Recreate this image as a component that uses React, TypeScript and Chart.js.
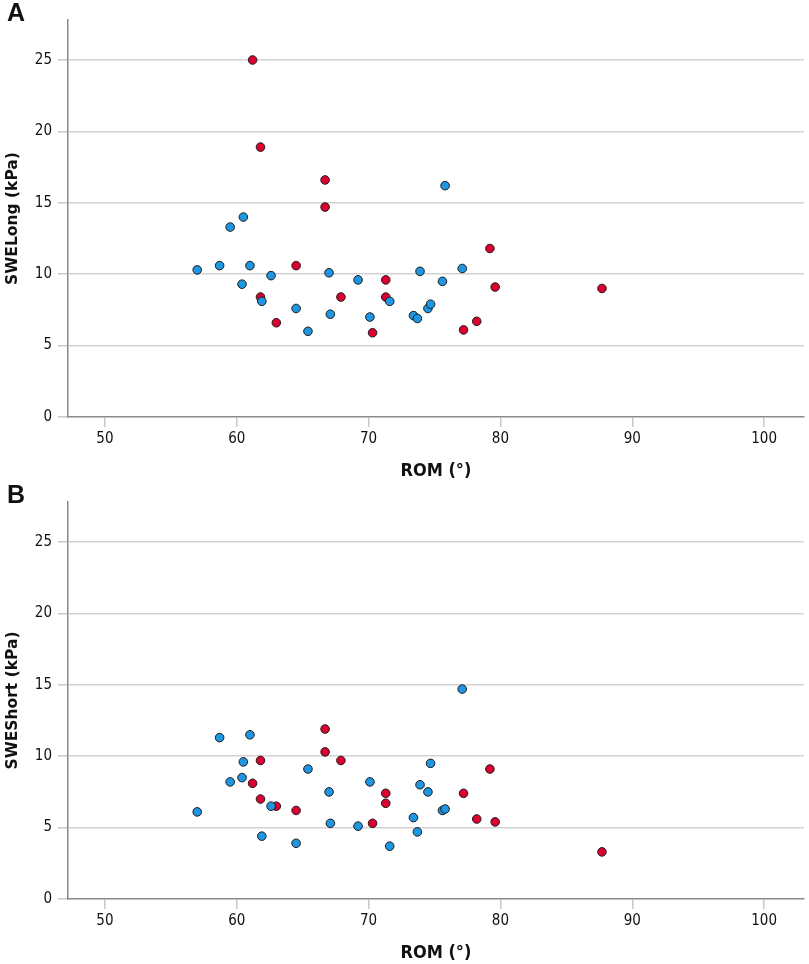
import React, { useRef, useEffect } from 'react';
import Chart from 'chart.js/auto';

// ROM (°) of each subject, grouped by colour
const blueRom = [57.0, 58.7, 59.5, 60.4, 60.5, 61.0, 61.9, 62.6, 64.5, 65.4, 67.0, 67.1, 69.2, 70.1, 71.6, 73.4, 73.7, 73.9, 74.5, 74.7, 75.6, 75.8, 77.1];
const blueLong = [10.3, 10.6, 13.3, 9.3, 14.0, 10.6, 8.1, 9.9, 7.6, 6.0, 10.1, 7.2, 9.6, 7.0, 8.1, 7.1, 6.9, 10.2, 7.6, 7.9, 9.5, 16.2, 10.4];
const blueShort = [6.1, 11.3, 8.2, 8.5, 9.6, 11.5, 4.4, 6.5, 3.9, 9.1, 7.5, 5.3, 5.1, 8.2, 3.7, 5.7, 4.7, 8.0, 7.5, 9.5, 6.2, 6.3, 14.7];

const redRom = [61.2, 61.8, 61.8, 63.0, 64.5, 66.7, 66.7, 67.9, 70.3, 71.3, 71.3, 77.2, 78.2, 79.2, 79.6, 87.7];
const redLong = [25.0, 18.9, 8.4, 6.6, 10.6, 16.6, 14.7, 8.4, 5.9, 9.6, 8.4, 6.1, 6.7, 11.8, 9.1, 9.0];
const redShort = [8.1, 9.7, 7.0, 6.5, 6.2, 11.9, 10.3, 9.7, 5.3, 7.4, 6.7, 7.4, 5.6, 9.1, 5.4, 3.3];

const xTickValues = [50, 60, 70, 80, 90, 100];
const yTickValues = [0, 5, 10, 15, 20, 25];

const narrow = "'DejaVu Sans Condensed', 'Liberation Sans Narrow', sans-serif";

interface PanelProps {
    letter: string;
    yTitle: string;
    blue: number[];
    red: number[];
}

const toPoints = (xs: number[], ys: number[]) => xs.map((x, i) => ({ x, y: ys[i] }));

const Panel: React.FC<PanelProps> = ({ letter, yTitle, blue, red }) => {
    const chartRef = useRef<HTMLCanvasElement>(null);

    useEffect(() => {
        if (!chartRef.current) return;
        const chart = new Chart(chartRef.current, {
            type: 'scatter',
            data: {
                datasets: [
                    {
                        data: toPoints(blueRom, blue),
                        backgroundColor: '#1e96e2',
                        borderColor: '#1c1c1c',
                        borderWidth: 1,
                        pointRadius: 4.3,
                    },
                    {
                        data: toPoints(redRom, red),
                        backgroundColor: '#dc0030',
                        borderColor: '#1c1c1c',
                        borderWidth: 1,
                        pointRadius: 4.3,
                    },
                ],
            },
            options: {
                animation: false,
                responsive: false,
                layout: { padding: { top: 20, right: 4, left: 0, bottom: 0 } },
                plugins: { legend: { display: false }, tooltip: { enabled: false } },
                scales: {
                    x: {
                        type: 'linear',
                        min: 47.2,
                        max: 103,
                        afterBuildTicks: (scale: any) => {
                            scale.ticks = xTickValues.map((value) => ({ value }));
                        },
                        afterFit: (scale: any) => {
                            scale.height = 65;
                        },
                        grid: {
                            drawOnChartArea: false,
                            tickLength: 10,
                            tickColor: '#c8c8c8',
                            lineWidth: 1.5,
                        },
                        border: { color: '#8a8a8a', width: 1.5 },
                        ticks: {
                            padding: 3,
                            color: '#111',
                            font: { family: narrow, size: 15 },
                        },
                        title: {
                            display: true,
                            text: 'ROM (°)',
                            color: '#111',
                            padding: { top: 4, bottom: 0 },
                            font: { family: narrow, size: 18, weight: 'bold' },
                        },
                    },
                    y: {
                        type: 'linear',
                        min: 0,
                        max: 27.8,
                        afterBuildTicks: (scale: any) => {
                            scale.ticks = yTickValues.map((value) => ({ value }));
                        },
                        afterFit: (scale: any) => {
                            scale.width = 68;
                        },
                        grid: {
                            color: (ctx: any) => (ctx.tick && ctx.tick.value === 0 ? 'rgba(0,0,0,0)' : '#d2d2d2'),
                            tickColor: '#c8c8c8',
                            tickLength: 10,
                            lineWidth: 1.5,
                        },
                        border: { color: '#8a8a8a', width: 1.5 },
                        ticks: {
                            padding: 6,
                            color: '#111',
                            font: { family: narrow, size: 15 },
                        },
                        title: {
                            display: true,
                            text: yTitle,
                            color: '#111',
                            padding: { top: 4, bottom: 0 },
                            font: { family: "'DejaVu Sans', sans-serif", size: 15.5, weight: 'bold' },
                        },
                    },
                },
            },
        });
        return () => chart.destroy();
    }, [yTitle, blue, red]);

    return (
        <div style={{ position: 'relative', width: '809px', height: '482px' }}>
            <canvas ref={chartRef} width={809} height={482} />
            <div
                style={{
                    position: 'absolute',
                    left: '7px',
                    top: '-2px',
                    fontFamily: "'Liberation Sans', Arial, sans-serif",
                    fontWeight: 'bold',
                    fontSize: '25px',
                    color: '#111',
                }}
            >
                {letter}
            </div>
        </div>
    );
};

const App: React.FC = () => {
    useEffect(() => {
        document.body.style.margin = '0';
    }, []);

    return (
        <div style={{ width: '809px', height: '964px', background: '#fff' }}>
            <Panel letter="A" yTitle="SWELong (kPa)" blue={blueLong} red={redLong} />
            <Panel letter="B" yTitle="SWEShort (kPa)" blue={blueShort} red={redShort} />
        </div>
    );
};

export default App;
